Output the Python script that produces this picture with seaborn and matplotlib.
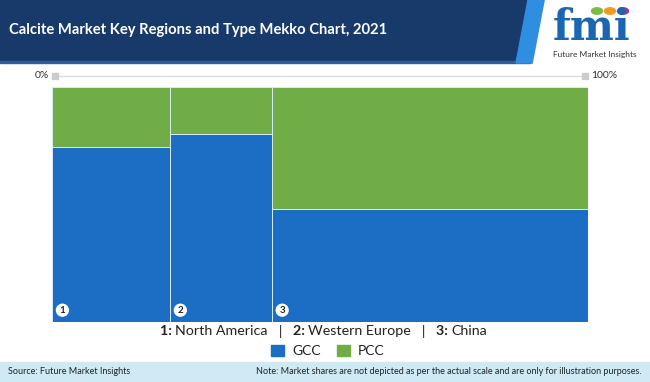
import pandas as pd
import matplotlib.pyplot as plt
import seaborn as sns
from matplotlib.patches import Rectangle, Polygon, Patch

# data
regions = ["North America", "Western Europe", "China"]
region_share = [22, 19, 59]          # column widths, % of market
gcc_share = [74.5, 80, 48]           # GCC share within each region, %
types = ["GCC", "PCC"]
colors = {"GCC": "#1b6ec4", "PCC": "#70ad47"}

edges = [0]
for w in region_share:
    edges.append(edges[-1] + w)
mids = [(edges[i] + edges[i + 1]) / 2 for i in range(len(regions))]

rows = []
for i, r in enumerate(regions):
    rows.append({"x": mids[i], "type": "GCC", "share": gcc_share[i]})
    rows.append({"x": mids[i], "type": "PCC", "share": 100 - gcc_share[i]})
df = pd.DataFrame(rows)

sns.set_style("white")
plt.rcParams["font.family"] = ["Lato", "DejaVu Sans"]

fig = plt.figure(figsize=(6.5, 3.82), dpi=100)
W, H = 650, 382


def fx(px):
    return px / W


def fy(py):
    return 1 - py / H


# header band
fig.patches.append(Rectangle((0, fy(62)), 1, 62 / H, transform=fig.transFigure,
                             color="#183a6b", zorder=0))
fig.patches.append(Rectangle((0, fy(63)), fx(530), 2 / H, transform=fig.transFigure,
                             color="#2d5e97", zorder=1))
fig.patches.append(Polygon([(fx(528), fy(0)), (fx(545), fy(0)), (fx(533), fy(63)), (fx(516), fy(63))],
                           transform=fig.transFigure, color="#2f8ee0", zorder=1))
fig.patches.append(Polygon([(fx(545), fy(0)), (1, fy(0)), (1, fy(63)), (fx(533), fy(63))],
                           transform=fig.transFigure, color="white", zorder=2))
fig.text(fx(9), fy(30), "Calcite Market Key Regions and Type Mekko Chart, 2021",
         color="white", fontsize=10.6, fontweight="bold", va="center", ha="left")

# logo
fig.text(fx(592), fy(28), "fmi", color="#1b66b3", fontsize=30, fontweight="bold",
         ha="center", va="center", family="DejaVu Serif")
for cx, c in zip([597, 610, 623], ["#7dbb42", "#f39a1e", "#8e3d97"]):
    fig.patches.append(plt.Circle((fx(cx), fy(11)), 5.5 / W, transform=fig.transFigure,
                                  color=c, zorder=3))
fig.text(fx(595), fy(54), "Future Market Insights", color="#333333", fontsize=6,
         ha="center", va="center")

# footer band
fig.patches.append(Rectangle((0, 0), 1, 20 / H, transform=fig.transFigure,
                             color="#cfe9f5", zorder=0))
fig.text(fx(8), fy(372), "Source: Future Market Insights", fontsize=6.5,
         color="#222222", va="center")
fig.text(fx(642), fy(372),
         "Note: Market shares are not depicted as per the actual scale and are only for illustration purposes.",
         fontsize=6.5, color="#222222", va="center", ha="right")

# mekko plot (fill stacks the last hue level at the bottom)
ax = fig.add_axes([fx(52), fy(322), fx(588) - fx(52), (322 - 87) / H])
sns.histplot(data=df, x="x", weights="share", hue="type", hue_order=types[::-1],
             bins=edges, multiple="fill", palette=colors, alpha=1,
             edgecolor="#d9ecf7", linewidth=0.7, legend=False, ax=ax)
ax.set_xlim(0, 100)
ax.set_ylim(0, 1)
ax.set_axis_off()

# top 0-100% scale line
tr = ax.get_xaxis_transform()
ax.plot([0.5, 99.5], [1.048, 1.048], color="#dddddd", lw=1, clip_on=False, transform=tr)
ax.plot([0.5, 99.5], [1.048, 1.048], ls="none", marker="s", ms=5, color="#cccccc",
        clip_on=False, transform=tr)
ax.text(-0.5, 1.048, "0%", transform=tr, ha="right", va="center", fontsize=7.5, color="#333333")
ax.text(100.6, 1.048, "100%", transform=tr, ha="left", va="center", fontsize=7.5, color="#333333")

# number badges
for i, left in enumerate(edges[:-1]):
    ax.annotate(str(i + 1), xy=(left, 0), xytext=(7.5, 8.5), textcoords="offset points",
                ha="center", va="center", fontsize=7, fontweight="bold", color="#222222",
                bbox=dict(boxstyle="circle,pad=0.22", fc="white", ec="none"))

# region key line, pieces chained one after another
pieces = []
for i, r in enumerate(regions):
    if i > 0:
        pieces.append(("   |   ", "normal"))
    pieces.append((f"{i + 1}: ", "bold"))
    pieces.append((r, "normal"))
cur = None
for txt, wt in pieces:
    if cur is None:
        cur = fig.text(fx(160), fy(331), txt, fontsize=10.3, fontweight=wt,
                       color="#222222", va="center", ha="left")
    else:
        cur = ax.annotate(txt, xy=(1, 0.5), xycoords=cur, xytext=(0, 0),
                          textcoords="offset points", fontsize=10.3, fontweight=wt,
                          color="#222222", va="center", ha="left",
                          annotation_clip=False)

handles = [Patch(color=colors[t], label=t) for t in types]
fig.legend(handles=handles, loc="center", bbox_to_anchor=(fx(328), fy(351)), ncol=2,
           frameon=False, fontsize=10, handlelength=0.9, handleheight=0.9,
           columnspacing=1.2, handletextpad=0.6, labelcolor="#222222")

fig.savefig("out.png", dpi=100)
